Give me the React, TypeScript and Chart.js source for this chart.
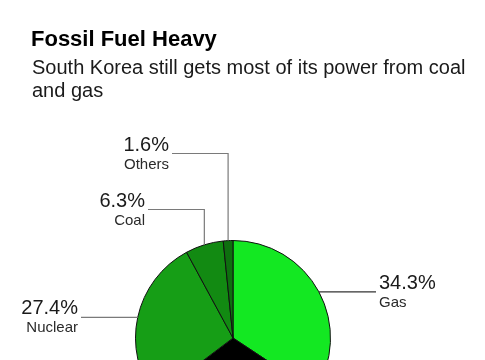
import React, { useEffect, useRef } from "react";
import { Chart, registerables } from "chart.js";

Chart.register(...registerables);

// Share of power generation by source (percent), clockwise from 12 o'clock
const categories = ["Gas", "Remainder", "Nuclear", "Coal", "Others"];
const shares = [34.3, 30.4, 27.4, 6.3, 1.6];
const valueLabels = ["34.3%", "30.4%", "27.4%", "6.3%", "1.6%"];

const sliceColors = ["#13e822", "#000000", "#169e16", "#128a12", "#0e6f0f"];

// Callout styling per labelled slice (index into the arrays above)
type Callout = {
  index: number;
  endX: number;
  elbowY?: number;
  align: "left" | "right";
  lineColor: string;
};

const callouts: Callout[] = [
  { index: 0, endX: 376, align: "left", lineColor: "#333333" },
  { index: 2, endX: 81, align: "right", lineColor: "#7a7a7a" },
  { index: 3, endX: 148, elbowY: 209.5, align: "right", lineColor: "#7a7a7a" },
  { index: 4, endX: 172, elbowY: 153.5, align: "right", lineColor: "#7a7a7a" },
];

const FONT = '"Liberation Sans", Arial, Helvetica, sans-serif';

const calloutPlugin = {
  id: "sliceCallouts",
  afterDatasetsDraw(chart: any) {
    const ctx: CanvasRenderingContext2D = chart.ctx;
    const meta = chart.getDatasetMeta(0);
    ctx.save();
    for (const c of callouts) {
      const arc = meta.data[c.index] as any;
      const mid = (arc.startAngle + arc.endAngle) / 2;
      const ex = arc.x + Math.cos(mid) * arc.outerRadius;
      const ey = arc.y + Math.sin(mid) * arc.outerRadius;
      const lineY = c.elbowY ?? ey;

      ctx.beginPath();
      ctx.strokeStyle = c.lineColor;
      ctx.lineWidth = 1.2;
      ctx.moveTo(ex, ey);
      if (c.elbowY !== undefined) ctx.lineTo(ex, c.elbowY);
      ctx.lineTo(c.endX, lineY);
      ctx.stroke();

      const tx = c.align === "right" ? c.endX - 3 : c.endX + 3;
      ctx.textAlign = c.align;
      ctx.textBaseline = "alphabetic";
      ctx.fillStyle = "#1a1a1a";
      ctx.font = `20px ${FONT}`;
      ctx.fillText(valueLabels[c.index], tx, lineY - 3);
      ctx.font = `15px ${FONT}`;
      ctx.fillStyle = "#2a2a2a";
      ctx.fillText(categories[c.index], tx, lineY + 15);
    }
    ctx.restore();
  },
};

function PieChart() {
  const canvasRef = useRef<HTMLCanvasElement | null>(null);

  useEffect(() => {
    if (!canvasRef.current) return;
    const chart = new Chart(canvasRef.current, {
      type: "pie",
      data: {
        labels: categories,
        datasets: [
          {
            data: shares,
            backgroundColor: sliceColors,
            borderColor: "#111111",
            borderWidth: 1,
          },
        ],
      },
      options: {
        responsive: false,
        animation: false,
        layout: { padding: { left: 135, right: 154, top: 240, bottom: 44 } },
        plugins: {
          legend: { display: false },
          tooltip: { enabled: false },
          title: { display: false },
        },
      },
      plugins: [calloutPlugin],
    });
    return () => chart.destroy();
  }, []);

  return (
    <canvas
      ref={canvasRef}
      width={485}
      height={480}
      style={{ position: "absolute", left: 0, top: 0, display: "block" }}
    />
  );
}

export default function App() {
  return (
    <div
      style={{
        position: "absolute",
        left: 0,
        top: 0,
        width: 485,
        height: 360,
        overflow: "hidden",
        background: "#ffffff",
        fontFamily: FONT,
      }}
    >
      <PieChart />
      <div
        style={{
          position: "absolute",
          left: 31,
          top: 28,
          fontSize: 22,
          lineHeight: "22px",
          fontWeight: 700,
          color: "#000000",
          whiteSpace: "nowrap",
        }}
      >
        Fossil Fuel Heavy
      </div>
      <div
        style={{
          position: "absolute",
          left: 32,
          top: 55.6,
          fontSize: 20,
          lineHeight: "23.5px",
          color: "#1a1a1a",
          whiteSpace: "nowrap",
        }}
      >
        South Korea still gets most of its power from coal
        <br />
        and gas
      </div>
    </div>
  );
}
